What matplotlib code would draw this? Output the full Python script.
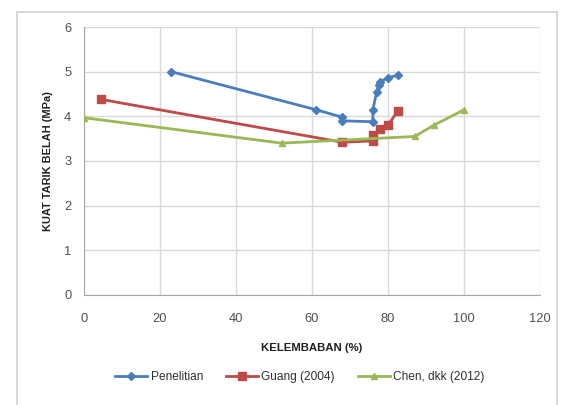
import matplotlib
matplotlib.use("Agg")
import matplotlib.pyplot as plt
from matplotlib.patches import Rectangle

# Data
pen_x = [23, 61, 68, 68, 76, 76, 77, 77.5, 78, 80, 82.5]
pen_y = [5.0, 4.15, 3.98, 3.9, 3.88, 4.15, 4.55, 4.7, 4.78, 4.87, 4.92]
guang_x = [4.5, 68, 76, 76, 78, 80, 82.5]
guang_y = [4.38, 3.42, 3.45, 3.58, 3.72, 3.8, 4.12]
chen_x = [0, 52, 87, 92, 100]
chen_y = [3.97, 3.4, 3.55, 3.8, 4.15]
x_ticks = [0, 20, 40, 60, 80, 100, 120]
y_ticks = [0, 1, 2, 3, 4, 5, 6]

plt.rcParams['font.family'] = ['Liberation Sans', 'DejaVu Sans']

fig = plt.figure(figsize=(5.71, 4.05), dpi=100)
fig.patches.append(Rectangle((0.030, -0.02), 0.945, 0.99, transform=fig.transFigure,
                             fill=False, edgecolor='#D0D0D0', linewidth=1.2))
ax = fig.add_axes([0.147, 0.272, 0.799, 0.661])

ax.plot(pen_x, pen_y, color='#4A7EBB', marker='D', markersize=4, linewidth=2, label='Penelitian', zorder=3)
ax.plot(guang_x, guang_y, color='#BE4B48', marker='s', markersize=6, linewidth=2, label='Guang (2004)', zorder=3)
ax.plot(chen_x, chen_y, color='#98B954', marker='^', markersize=5, linewidth=2, label='Chen, dkk (2012)', zorder=3)

ax.set_xlim(0, 120)
ax.set_ylim(0, 6)
ax.set_xticks(x_ticks)
ax.set_yticks(y_ticks)
ax.grid(True, color='#D9D9D9', linewidth=1)
ax.set_axisbelow(True)
for s in ['top', 'right']:
    ax.spines[s].set_visible(False)
for s in ['left', 'bottom']:
    ax.spines[s].set_color('#A6A6A6')
ax.tick_params(axis='x', length=0, labelsize=9.3, colors='#505050', pad=13)
ax.tick_params(axis='y', length=0, labelsize=9.3, colors='#505050', pad=9)

ax.set_xlabel('KELEMBABAN (%)', fontsize=8.2, fontweight='bold', color='#202020', labelpad=13)
ax.set_ylabel('KUAT TARIK BELAH (MPa)', fontsize=7.9, fontweight='bold', color='#202020', labelpad=8)

fig.legend(loc='center', bbox_to_anchor=(0.525, 0.069), ncol=3, frameon=False, fontsize=8.6,
           handlelength=2.7, handletextpad=0.3, columnspacing=1.9, labelcolor='#303030')

fig.savefig('out.png', dpi=100)
